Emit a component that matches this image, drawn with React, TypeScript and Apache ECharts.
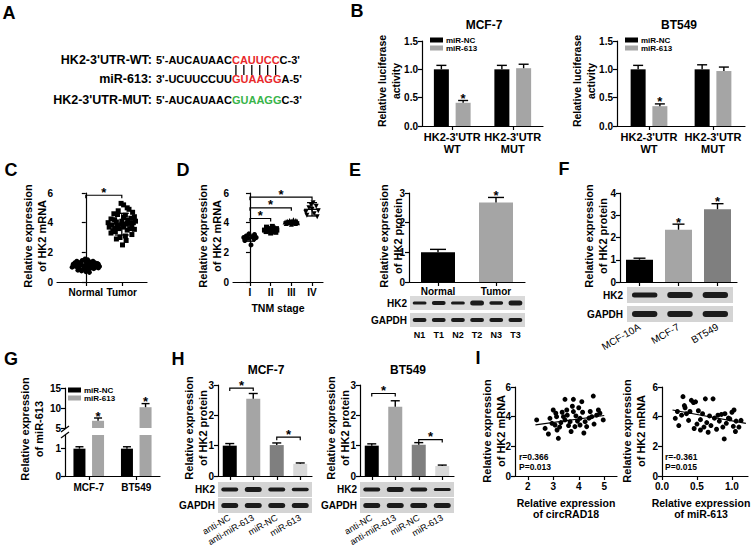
import React, { useEffect, useRef } from 'react';
import * as echarts from 'echarts';

const FONT = '"Liberation Sans", Arial, Helvetica, sans-serif';
const BLACK = '#000000';
const GRAY = '#a5a5a5';
const DARK = '#7f7f7f';
const LIGHT = '#d9d9d9';
const RED = '#e8282b';
const GREEN = '#38b449';

// ---------- Panel A (sequences)
const aLabels = ["HK2-3'UTR-WT:", 'miR-613:', "HK2-3'UTR-MUT:"];
const aSeqPre = ["5'-AUCAUAAC", "3'-UCUUCCUU", "5'-AUCAUAAC"];
const aSeqSite = ['CAUUCC', 'GUAAGG', 'GUAAGG'];
const aSeqPost = ["C-3'", "A-5'", "C-3'"];

// ---------- Panel B (luciferase)
const bCategories = ["HK2-3'UTR\nWT", "HK2-3'UTR\nMUT"];
const bMcfNC = [1.0, 1.0];
const bMcfNCErr = [0.07, 0.07];
const bMcf613 = [0.41, 1.02];
const bMcf613Err = [0.04, 0.07];
const bBtNC = [1.0, 1.0];
const bBtNCErr = [0.07, 0.08];
const bBt613 = [0.35, 0.97];
const bBt613Err = [0.04, 0.07];
const bStars613 = [true, false];

// ---------- Panel C (Normal vs Tumor, HK2 mRNA)
const cCategories = ['Normal', 'Tumor'];
const cNormal = [1.05, 1.2, 0.95, 1.3, 1.1, 1.45, 0.85, 1.15, 1.25, 1.0, 1.35, 0.75, 1.1, 1.2, 1.5, 0.9, 1.05, 1.3, 1.15, 0.65, 1.25, 1.4, 1.0, 1.1, 0.8, 1.35, 1.2, 0.95, 1.55, 1.05, 1.15, 0.9, 1.25, 1.3, 1.0, 0.7, 1.2, 1.1, 1.4, 1.05, 1.15, 0.95, 1.3, 1.2, 0.85];
const cNormalJitter = [-0.05, 0.12, -0.2, 0.25, 0.3, -0.1, 0.08, -0.32, 0.18, -0.38, 0.0, -0.12, -0.25, 0.35, 0.05, 0.22, 0.38, -0.3, 0.02, 0.1, -0.15, 0.2, 0.28, -0.08, -0.22, 0.12, -0.35, 0.15, -0.02, -0.28, 0.25, -0.05, 0.32, -0.18, 0.1, 0.0, 0.22, 0.15, -0.25, 0.3, -0.12, 0.35, 0.05, -0.3, -0.18];
const cTumor = [3.9, 4.2, 3.6, 4.5, 3.3, 4.0, 3.8, 5.2, 4.8, 3.5, 4.1, 2.5, 3.7, 4.3, 3.0, 4.6, 3.9, 5.0, 3.4, 4.4, 3.2, 4.0, 3.7, 4.9, 3.85, 4.15, 2.9, 3.6, 4.7, 4.05, 3.55, 5.3, 3.95, 4.25, 3.1, 4.35, 3.75, 4.55, 3.45, 4.1, 2.8, 3.65, 4.0];
const cTumorJitter = [0.0, -0.2, 0.22, 0.1, -0.3, 0.32, -0.12, 0.05, -0.1, 0.15, 0.38, 0.02, -0.35, 0.25, -0.05, -0.22, 0.12, 0.15, -0.18, 0.35, 0.28, -0.38, 0.05, 0.2, -0.28, 0.18, -0.15, -0.08, 0.3, -0.15, 0.35, -0.02, 0.22, -0.3, 0.1, 0.05, 0.28, -0.12, -0.25, 0.0, 0.12, -0.2, 0.15];
const cMean = [1.15, 3.9];
const cSD = [0.25, 0.73];
const cBrackets = [[0, 1, 5.85]];

// ---------- Panel D (TNM stage)
const dCategories = ['I', 'II', 'III', 'IV'];
const dI = [2.5, 2.8, 2.9, 2.95, 3.0, 3.0, 3.05, 3.1, 3.2, 3.25];
const dIJitter = [0.05, -0.25, 0.2, -0.1, 0.3, -0.3, 0.1, -0.18, 0.22, -0.05];
const dII = [3.3, 3.35, 3.4, 3.4, 3.45, 3.5, 3.5, 3.5, 3.55, 3.55, 3.6, 3.6, 3.65, 3.7, 3.75];
const dIIJitter = [0.0, 0.25, -0.22, 0.1, -0.1, 0.3, -0.3, 0.05, 0.2, -0.15, 0.28, -0.05, 0.12, -0.2, 0.08];
const dIII = [3.9, 3.95, 3.95, 4.0, 4.0, 4.0, 4.05, 4.05, 4.05, 4.1, 4.1, 4.1, 4.15, 4.15, 4.2];
const dIIIJitter = [0.0, -0.25, 0.2, 0.3, -0.1, 0.1, -0.3, 0.18, 0.05, -0.2, 0.28, 0.0, -0.08, 0.22, 0.1];
const dIV = [4.4, 4.5, 4.6, 4.7, 4.8, 4.9, 5.0, 5.1, 5.2, 5.35];
const dIVJitter = [0.25, -0.25, 0.1, -0.3, 0.3, 0.0, -0.15, 0.2, -0.05, 0.05];
const dMean = [2.95, 3.52, 4.05, 4.9];
const dSD = [0.2, 0.14, 0.09, 0.45];
const dBrackets = [[0, 1, 4.28], [0, 2, 5.0], [0, 3, 5.72]];

// ---------- Panel E (tissue protein)
const eCategories = ['Normal', 'Tumor'];
const eVals = [1.0, 2.68];
const eErr = [0.1, 0.17];
const eStars = [false, true];
const eLanes = ['N1', 'T1', 'N2', 'T2', 'N3', 'T3'];
const eHK2 = [3, 4, 3, 5, 3.5, 5];
const eGAPDH = [4, 4, 4, 4, 4, 4];

// ---------- Panel F (cell lines protein)
const fCategories = ['MCF-10A', 'MCF-7', 'BT549'];
const fVals = [1.0, 2.35, 3.27];
const fErr = [0.07, 0.25, 0.25];
const fStars = [false, true, true];
const fHK2 = [5, 6, 6];
const fGAPDH = [6, 6, 6];

// ---------- Panel G (miR-613, broken axis)
const gCategories = ['MCF-7', 'BT549'];
const gNC = [1.0, 1.0];
const gNCErr = [0.07, 0.07];
const g613 = [6.8, 10.2];
const g613Err = [0.7, 0.9];
const gStars613 = [true, true];

// ---------- Panel H (HK2 protein after transfection)
const hCategories = ['anti-NC', 'anti-miR-613', 'miR-NC', 'miR-613'];
const hMcf = [1.0, 2.55, 1.02, 0.4];
const hMcfErr = [0.07, 0.17, 0.07, 0.03];
const hBt = [1.0, 2.28, 1.03, 0.33];
const hBtErr = [0.06, 0.2, 0.07, 0.03];
const hMcfBrackets = [[0, 1, 2.9], [2, 3, 1.28]];
const hBtBrackets = [[0, 1, 2.72], [2, 3, 1.2]];
const hMcfHK2 = [4, 5, 4, 3.5];
const hBtHK2 = [4, 5, 4, 3];
const hGAPDH = [5, 5, 5, 5];

// ---------- Panel I (correlations)
const iLeftPoints = [[2.35, 3.78], [2.68, 3.21], [2.81, 2.83], [3.0, 4.45], [3.1, 4.23], [3.07, 3.44], [3.2, 2.54], [2.87, 3.89], [3.13, 4.0], [3.46, 5.17], [3.79, 5.17], [4.12, 5.01], [4.57, 5.39], [3.53, 4.45], [3.79, 4.34], [3.89, 4.05], [3.46, 3.78], [3.66, 3.66], [4.05, 3.89], [4.25, 3.66], [4.51, 4.0], [4.77, 4.45], [4.83, 4.23], [4.05, 3.44], [4.31, 3.33], [3.85, 3.33], [4.96, 3.78], [3.3, 3.6], [3.55, 4.1], [3.7, 3.0], [3.95, 3.7], [4.15, 4.3], [4.4, 3.9], [3.25, 3.3], [3.6, 3.4], [4.0, 4.6], [4.2, 2.9], [3.4, 4.0], [4.6, 3.5], [3.15, 3.1], [3.75, 4.7], [4.45, 4.35], [2.95, 3.55], [4.7, 4.1], [3.35, 4.3]];
const iRightPoints = [[0.19, 3.89], [0.22, 4.35], [0.24, 3.4], [0.3, 5.35], [0.32, 4.75], [0.28, 4.1], [0.35, 4.2], [0.38, 3.75], [0.42, 5.1], [0.45, 4.95], [0.4, 4.35], [0.48, 5.0], [0.5, 3.5], [0.52, 4.4], [0.55, 3.1], [0.55, 3.8], [0.58, 4.2], [0.6, 3.3], [0.62, 5.2], [0.64, 3.6], [0.66, 2.95], [0.68, 4.05], [0.7, 3.4], [0.73, 5.2], [0.75, 3.9], [0.78, 3.15], [0.8, 4.1], [0.82, 3.7], [0.85, 4.15], [0.87, 3.3], [0.89, 2.5], [0.9, 4.2], [0.92, 3.55], [0.95, 3.9], [0.97, 3.85], [1.0, 4.3], [1.02, 3.35], [1.03, 4.45], [1.05, 3.0], [1.06, 3.7], [1.1, 3.3], [1.13, 3.75], [0.46, 3.2], [0.33, 4.6]];
const iLeftFit = [[2.3, 3.45], [5.0, 4.08]];
const iRightFit = [[0.15, 4.45], [1.2, 3.55]];
const iLeftXTicks = [2, 3, 4, 5];
const iRightXTicks = [0, 0.5, 1.0];
const iLeftStats = ['r=0.366', 'P=0.013'];
const iRightStats = ['r=-0.361', 'P=0.015'];

// ---------- layout (px): left, top, width, height
const GRIDS = [
  [422, 41, 121, 85], // 0 B MCF-7
  [617, 41, 128, 85], // 1 B BT549
  [57, 193, 90, 89], // 2 C
  [233, 193, 90, 89], // 3 D
  [409, 193, 116, 89], // 4 E
  [620, 193, 117, 89], // 5 F
  [65, 435, 95, 41], // 6 G lower
  [65, 388, 95, 40], // 7 G upper
  [218, 385, 94, 91], // 8 H MCF-7
  [360, 385, 94, 91], // 9 H BT549
  [515, 387, 102, 89], // 10 I left
  [662, 387, 86, 89], // 11 I right
];

const TICK_FS = 10;
const lineStyle = { show: true, lineStyle: { color: BLACK, width: 1.2 } };
const tick = (extra: any = {}) => ({ show: true, length: 4, inside: false, lineStyle: { color: BLACK, width: 1.2 }, ...extra });
const txt = (size: number, weight: string = 'bold') => ({ color: BLACK, fontFamily: FONT, fontSize: size, fontWeight: weight });

function valueY(gi: number, min: number, max: number, interval: number | undefined, fmt?: any, custom?: number[]) {
  return {
    type: 'value', gridIndex: gi, min, max, interval,
    axisLine: lineStyle,
    axisTick: tick(custom ? { customValues: custom } : {}),
    axisLabel: { ...txt(TICK_FS), margin: 4, formatter: fmt, ...(custom ? { customValues: custom } : {}) },
    splitLine: { show: false },
  };
}
function catX(gi: number, data: string[], labelExtra: any = {}, show = true) {
  return {
    type: 'category', gridIndex: gi, data, show,
    axisLine: lineStyle,
    axisTick: tick({ alignWithLabel: true }),
    axisLabel: { ...txt(TICK_FS), margin: 5, interval: 0, lineHeight: 12, ...labelExtra },
    splitLine: { show: false },
  };
}
function valueX(gi: number, min: number, max: number, custom: number[], fmt: any, extra: any = {}) {
  return {
    type: 'value', gridIndex: gi, min, max,
    axisLine: lineStyle,
    axisTick: tick({ customValues: custom }),
    axisLabel: { ...txt(TICK_FS), margin: 5, customValues: custom, formatter: fmt },
    splitLine: { show: false },
    ...extra,
  };
}

function starText(x: number, y: number) {
  return { type: 'text', x, y, style: { text: '*', align: 'center', verticalAlign: 'middle', textAlign: 'center', textVerticalAlign: 'middle', fontFamily: FONT, fontSize: 13, fontWeight: 'bold', fill: BLACK } };
}

function errSeries(gi: number, vals: number[], errs: number[], stars: boolean[] | null, off: number, cap: number) {
  return {
    type: 'custom', xAxisIndex: gi, yAxisIndex: gi, silent: true, z: 4, clip: false,
    data: vals.map((v, i) => [i, v, errs[i], stars && stars[i] ? 1 : 0]),
    renderItem: (_p: any, api: any) => {
      const i = api.value(0);
      const v = api.value(1);
      const e = api.value(2);
      const b = api.coord([i, v]);
      const t = api.coord([i, v + e]);
      const x = b[0] + off;
      const st = { stroke: BLACK, lineWidth: 1.4 };
      const ch: any[] = [
        { type: 'line', shape: { x1: x, y1: b[1], x2: x, y2: t[1] }, style: st },
        { type: 'line', shape: { x1: x - cap / 2, y1: t[1], x2: x + cap / 2, y2: t[1] }, style: st },
      ];
      if (api.value(3)) ch.push(starText(x, t[1] - 2));
      return { type: 'group', children: ch };
    },
  };
}

function bracketSeries(gi: number, list: number[][], drop: number) {
  return {
    type: 'custom', xAxisIndex: gi, yAxisIndex: gi, silent: true, z: 4, clip: false,
    data: list,
    renderItem: (_p: any, api: any) => {
      const a = api.coord([api.value(0), api.value(2)]);
      const b = api.coord([api.value(1), api.value(2)]);
      return {
        type: 'group',
        children: [
          { type: 'polyline', shape: { points: [[a[0], a[1] + drop], [a[0], a[1]], [b[0], b[1]], [b[0], b[1] + drop]] }, style: { stroke: BLACK, lineWidth: 1.2, fill: 'none' } },
          starText((a[0] + b[0]) / 2, a[1] - 3),
        ],
      };
    },
  };
}

function meanSdSeries(gi: number, means: number[], sds: number[], halfMean: number, halfCap: number) {
  return {
    type: 'custom', xAxisIndex: gi, yAxisIndex: gi, silent: true, z: 4, clip: false,
    data: means.map((m, i) => [i, m, sds[i]]),
    renderItem: (_p: any, api: any) => {
      const i = api.value(0);
      const m = api.value(1);
      const s = api.value(2);
      const c = api.coord([i, m]);
      const t = api.coord([i, m + s]);
      const b = api.coord([i, m - s]);
      const st = { stroke: BLACK, lineWidth: 1.3 };
      return {
        type: 'group',
        children: [
          { type: 'line', shape: { x1: c[0] - halfMean, y1: c[1], x2: c[0] + halfMean, y2: c[1] }, style: st },
          { type: 'line', shape: { x1: c[0], y1: t[1], x2: c[0], y2: b[1] }, style: st },
          { type: 'line', shape: { x1: c[0] - halfCap, y1: t[1], x2: c[0] + halfCap, y2: t[1] }, style: st },
          { type: 'line', shape: { x1: c[0] - halfCap, y1: b[1], x2: c[0] + halfCap, y2: b[1] }, style: st },
        ],
      };
    },
  };
}

function swarm(gi: number, pos: number, vals: number[], jit: number[], symbol: string, rotate = 0) {
  return {
    type: 'scatter', xAxisIndex: gi, yAxisIndex: gi, silent: true, z: 3,
    symbol, symbolSize: 5, symbolRotate: rotate,
    itemStyle: { color: BLACK, opacity: 1 },
    data: vals.map((v, i) => [pos + jit[i], v]),
  };
}

function text(x: number, y: number, s: string, size: number, opts: any = {}) {
  const align = opts.align || 'center';
  const valign = opts.valign || 'middle';
  return {
    type: 'text', x, y, rotation: opts.rotation || 0, silent: true,
    style: {
      text: s, fill: opts.fill || BLACK, fontFamily: FONT, fontSize: size, fontWeight: opts.weight || 'bold',
      align, verticalAlign: valign, textAlign: align, textVerticalAlign: valign, lineHeight: opts.lineHeight || size + 3,
    },
  };
}

function blot(x: number, y: number, w: number, h: number, bands: number[], bg: string) {
  const n = bands.length;
  const lw = w / n;
  const els: any[] = [{ type: 'rect', silent: true, shape: { x, y, width: w, height: h }, style: { fill: bg } }];
  bands.forEach((t, i) => {
    els.push({ type: 'rect', silent: true, shape: { x: x + i * lw + lw * 0.14, y: y + (h - t) / 2, width: lw * 0.72, height: t, r: t / 2 }, style: { fill: '#1b1b1b' } });
  });
  return els;
}

function buildOption() {
  const canvas = document.createElement('canvas');
  const ctx = canvas.getContext('2d') as CanvasRenderingContext2D;
  ctx.font = `bold 11px ${FONT}`;
  const mw = (s: string) => ctx.measureText(s).width;

  const graphic: any[] = [];
  // panel letters
  ([['A', 9, 13], ['B', 357, 11], ['C', 11, 170], ['D', 183, 170], ['E', 355, 170], ['F', 564, 169], ['G', 11, 359], ['H', 178, 359], ['I', 478, 358]] as any[]).forEach(([l, x, y]) => graphic.push(text(x, y, l, 18)));

  // Panel A
  const rowsY = [60, 79, 100];
  const x0 = 156;
  const siteColors = [RED, RED, GREEN];
  aLabels.forEach((lab, r) => {
    graphic.push(text(152, rowsY[r], lab, 12.5, { align: 'right' }));
    const pre = aSeqPre[r];
    const site = aSeqSite[r];
    graphic.push(text(x0, rowsY[r], pre, 11, { align: 'left' }));
    graphic.push(text(x0 + mw(pre), rowsY[r], site, 11, { align: 'left', fill: siteColors[r] }));
    graphic.push(text(x0 + mw(pre) + mw(site), rowsY[r], aSeqPost[r], 11, { align: 'left' }));
  });
  {
    const pre = aSeqPre[0];
    const site = aSeqSite[0];
    for (let k = 0; k < site.length; k++) {
      const cx = x0 + mw(pre) + mw(site.slice(0, k)) + mw(site[k]) / 2;
      graphic.push({ type: 'line', silent: true, shape: { x1: cx, y1: 65, x2: cx, y2: 75 }, style: { stroke: BLACK, lineWidth: 1.3 } });
    }
  }

  // chart titles
  graphic.push(text(484, 25, 'MCF-7', 12));
  graphic.push(text(679, 25, 'BT549', 12));
  graphic.push(text(266, 370, 'MCF-7', 12));
  graphic.push(text(408, 370, 'BT549', 12));

  // y-axis titles
  const yt: any[] = [
    [389, 81, 'Relative luciferase\nactivity', 10.5],
    [584, 81, 'Relative luciferase\nactivity', 10.5],
    [35, 236, 'Relative expression\nof HK2 mRNA', 11],
    [210, 236, 'Relative expression\nof HK2 mRNA', 11],
    [391, 236, 'Relative expression\nof HK2 protein', 11],
    [596, 236, 'Relative expression\nof HK2 protein', 11],
    [32, 429, 'Relative expression\nof miR-613', 11],
    [196, 428, 'Relative expression\nof HK2 protein', 11],
    [338, 428, 'Relative expression\nof HK2 protein', 11],
    [494, 431, 'Relative expression\nof HK2 mRNA', 11],
    [634, 431, 'Relative expression\nof HK2 mRNA', 11],
  ];
  yt.forEach(([x, y, s, fs]) => graphic.push(text(x, y, s, fs, { rotation: Math.PI / 2, lineHeight: 14 })));

  // blots
  const blotLbl = (x: number, y: number, s: string) => text(x, y, s, 10, { align: 'right' });
  graphic.push(...blot(410, 296, 115, 14, eHK2, '#dadada'));
  graphic.push(...blot(410, 313, 115, 14, eGAPDH, '#d6d6d6'));
  graphic.push(blotLbl(407, 303, 'HK2'), blotLbl(407, 320, 'GAPDH'));
  eLanes.forEach((l, i) => graphic.push(text(410 + (i + 0.5) * (115 / 6), 335, l, 9)));

  graphic.push(...blot(627, 287, 106, 16, fHK2, '#d4d4d4'));
  graphic.push(...blot(627, 306, 106, 16, fGAPDH, '#d4d4d4'));
  graphic.push(blotLbl(623, 295, 'HK2'), blotLbl(623, 314, 'GAPDH'));

  graphic.push(...blot(218, 482, 94, 15, hMcfHK2, '#d4d4d4'));
  graphic.push(...blot(218, 498, 94, 15, hGAPDH, '#d4d4d4'));
  graphic.push(blotLbl(215, 489.5, 'HK2'), blotLbl(215, 505.5, 'GAPDH'));
  graphic.push(...blot(360, 482, 94, 15, hBtHK2, '#d4d4d4'));
  graphic.push(...blot(360, 498, 94, 15, hGAPDH, '#d4d4d4'));
  graphic.push(blotLbl(357, 489.5, 'HK2'), blotLbl(357, 505.5, 'GAPDH'));

  // correlation stats
  graphic.push(text(519, 457, iLeftStats[0], 8.5, { align: 'left' }), text(519, 467, iLeftStats[1], 8.5, { align: 'left' }));
  graphic.push(text(665, 457, iRightStats[0], 8.5, { align: 'left' }), text(665, 467, iRightStats[1], 8.5, { align: 'left' }));

  // axis break marks (G)
  graphic.push({ type: 'line', silent: true, shape: { x1: 61, y1: 432, x2: 69, y2: 426 }, style: { stroke: BLACK, lineWidth: 1.2 } });
  graphic.push({ type: 'line', silent: true, shape: { x1: 61, y1: 438, x2: 69, y2: 432 }, style: { stroke: BLACK, lineWidth: 1.2 } });

  const grid = GRIDS.map(([left, top, width, height]) => ({ left, top, width, height, containLabel: false, outerBoundsMode: 'none' }));

  const f1 = (v: number) => v.toFixed(1);
  const xAxis: any[] = [
    catX(0, bCategories, { fontSize: 11 }),
    catX(1, bCategories, { fontSize: 11 }),
    valueX(2, -0.8, 1.7, [0, 1], (v: number) => cCategories[Math.round(v)]),
    valueX(3, -0.82, 3.53, [0, 1, 2, 3], (v: number) => dCategories[Math.round(v)], {
      name: 'TNM stage', nameLocation: 'middle', nameGap: 20, nameTextStyle: txt(10.5),
    }),
    catX(4, eCategories, { margin: 3 }),
    catX(5, fCategories, { rotate: 30, margin: 44, fontSize: 10, fontWeight: 'normal' }),
    catX(6, gCategories),
    catX(7, gCategories, {}, false),
    catX(8, hCategories, { rotate: 30, margin: 41, fontSize: 9, fontWeight: 'normal' }),
    catX(9, hCategories, { rotate: 30, margin: 41, fontSize: 9, fontWeight: 'normal' }),
    valueX(10, 1.5, 5.5, iLeftXTicks, (v: number) => String(v), {
      name: 'Relative expression\nof circRAD18', nameLocation: 'middle', nameGap: 21, nameTextStyle: { ...txt(10.5), lineHeight: 11 },
    }),
    valueX(11, 0, 1.23, iRightXTicks, f1, {
      name: 'Relative expression\nof miR-613', nameLocation: 'middle', nameGap: 21, nameTextStyle: { ...txt(10.5), lineHeight: 11, padding: [0, 8, 0, 0] },
    }),
  ];
  const yAxis: any[] = [
    valueY(0, 0, 1.5, 0.5, f1),
    valueY(1, 0, 1.5, 0.5, f1),
    valueY(2, 0, 6, 2),
    valueY(3, 0, 6, 2),
    valueY(4, 0, 3, 1),
    valueY(5, 0, 4, 1),
    valueY(6, 0, 1.5, undefined, undefined, [0, 1]),
    valueY(7, 5, 15, 5),
    valueY(8, 0, 3, 1),
    valueY(9, 0, 3, 1),
    valueY(10, 0, 6, 2),
    valueY(11, 0, 6, 2),
  ];

  const bar = (gi: number, name: string | undefined, data: any[], width: number, color: string | null, gap?: string) => ({
    type: 'bar', name, xAxisIndex: gi, yAxisIndex: gi, data, barWidth: width, barGap: gap, clip: true, silent: true, z: 2,
    itemStyle: color ? { color } : undefined,
  });
  const colored = (vals: number[], colors: string[]) => vals.map((v, i) => ({ value: v, itemStyle: { color: colors[i] } }));

  const bOff = (15 + 15 * 0.45) / 2;
  const gOff = (12 + 12 * 0.55) / 2;
  const series: any[] = [
    // B
    bar(0, 'miR-NC', bMcfNC, 15, BLACK, '45%'),
    bar(0, 'miR-613', bMcf613, 15, GRAY, '45%'),
    errSeries(0, bMcfNC, bMcfNCErr, null, -bOff, 10),
    errSeries(0, bMcf613, bMcf613Err, bStars613, bOff, 10),
    bar(1, 'miR-NC', bBtNC, 15, BLACK, '45%'),
    bar(1, 'miR-613', bBt613, 15, GRAY, '45%'),
    errSeries(1, bBtNC, bBtNCErr, null, -bOff, 10),
    errSeries(1, bBt613, bBt613Err, bStars613, bOff, 10),
    // C
    swarm(2, 0, cNormal, cNormalJitter, 'circle'),
    swarm(2, 1, cTumor, cTumorJitter, 'rect'),
    meanSdSeries(2, cMean, cSD, 12, 7),
    bracketSeries(2, cBrackets, 3),
    // D
    swarm(3, 0, dI, dIJitter, 'circle'),
    swarm(3, 1, dII, dIIJitter, 'rect'),
    swarm(3, 2, dIII, dIIIJitter, 'triangle'),
    swarm(3, 3, dIV, dIVJitter, 'triangle', 180),
    meanSdSeries(3, dMean, dSD, 8, 5),
    bracketSeries(3, dBrackets, 3),
    // E
    bar(4, undefined, colored(eVals, [BLACK, GRAY]), 34, null),
    errSeries(4, eVals, eErr, eStars, 0, 16),
    // F
    bar(5, undefined, colored(fVals, [BLACK, GRAY, DARK]), 27, null),
    errSeries(5, fVals, fErr, fStars, 0, 12),
    // G lower
    bar(6, 'miR-NC', gNC, 12, BLACK, '55%'),
    bar(6, 'miR-613', g613, 12, GRAY, '55%'),
    errSeries(6, gNC, gNCErr, null, -gOff, 8),
    // G upper
    bar(7, 'miR-NC', gNC, 12, BLACK, '55%'),
    bar(7, 'miR-613', g613, 12, GRAY, '55%'),
    errSeries(7, g613, g613Err, gStars613, gOff, 8),
    // H
    bar(8, undefined, colored(hMcf, [BLACK, GRAY, DARK, LIGHT]), 14, null),
    errSeries(8, hMcf, hMcfErr, null, 0, 9),
    bracketSeries(8, hMcfBrackets, 3),
    bar(9, undefined, colored(hBt, [BLACK, GRAY, DARK, LIGHT]), 14, null),
    errSeries(9, hBt, hBtErr, null, 0, 9),
    bracketSeries(9, hBtBrackets, 3),
    // I
    { type: 'scatter', xAxisIndex: 10, yAxisIndex: 10, symbol: 'circle', symbolSize: 5, silent: true, itemStyle: { color: BLACK, opacity: 1 }, data: iLeftPoints },
    { type: 'line', xAxisIndex: 10, yAxisIndex: 10, symbol: 'none', silent: true, lineStyle: { color: BLACK, width: 1.2 }, data: iLeftFit },
    { type: 'scatter', xAxisIndex: 11, yAxisIndex: 11, symbol: 'circle', symbolSize: 5, silent: true, itemStyle: { color: BLACK, opacity: 1 }, data: iRightPoints },
    { type: 'line', xAxisIndex: 11, yAxisIndex: 11, symbol: 'none', silent: true, lineStyle: { color: BLACK, width: 1.2 }, data: iRightFit },
  ];

  const legend = (left: number, top: number) => ({
    left, top, orient: 'vertical', icon: 'rect', itemWidth: 13, itemHeight: 5, itemGap: 0,
    selectedMode: false, padding: 0,
    textStyle: { ...txt(8), padding: [0, 0, 0, -2] },
    data: ['miR-NC', 'miR-613'],
  });

  return {
    animation: false,
    backgroundColor: '#ffffff',
    textStyle: { fontFamily: FONT },
    grid,
    xAxis,
    yAxis,
    series,
    legend: [legend(430, 36), legend(625, 36), legend(68, 386)],
    graphic: { elements: graphic },
  };
}

export default function App() {
  const ref = useRef<HTMLDivElement>(null);
  useEffect(() => {
    if (!ref.current) return;
    const chart = echarts.init(ref.current, null, { renderer: 'svg' });
    chart.setOption(buildOption() as any);
    return () => chart.dispose();
  }, []);
  return <div ref={ref} style={{ position: 'fixed', left: 0, top: 0, width: 753, height: 551, background: '#fff' }} />;
}
